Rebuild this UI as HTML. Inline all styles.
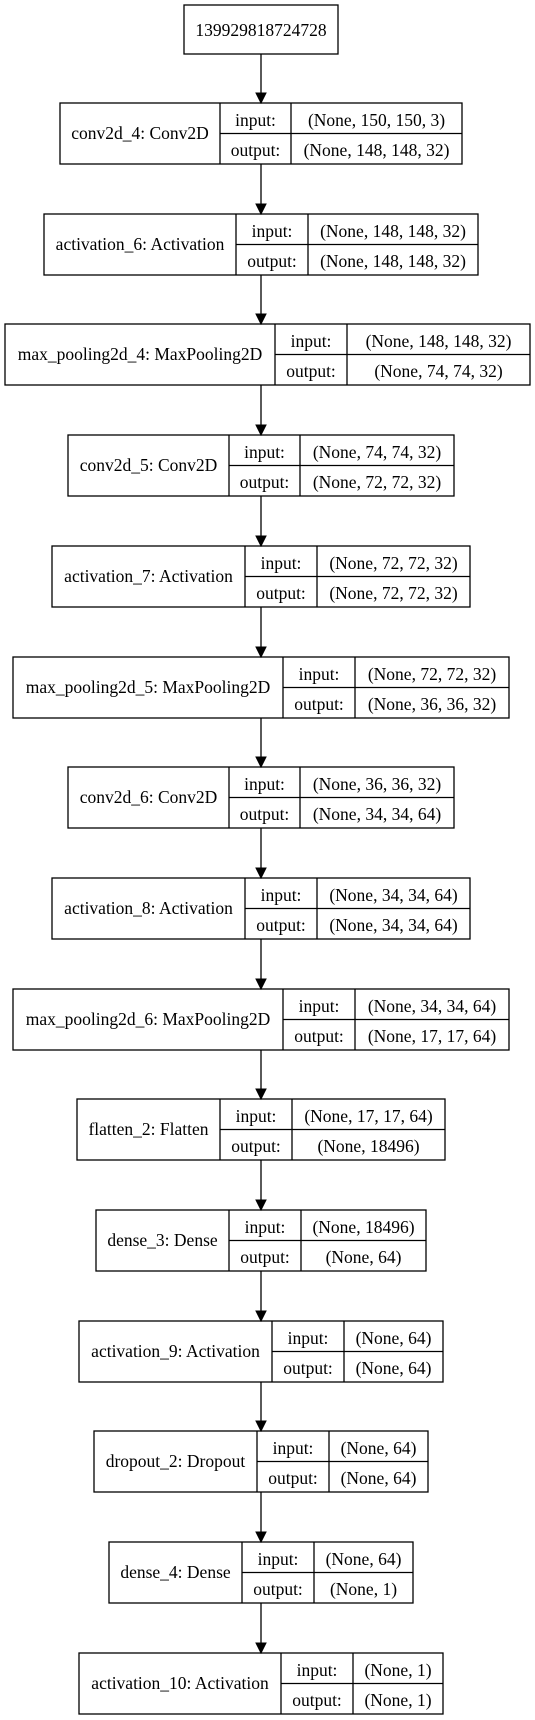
<!DOCTYPE html>
<html><head><meta charset="utf-8"><style>
html,body{margin:0;padding:0;background:#fff;}
svg{display:block;}
text{font-family:"Liberation Serif",serif;font-size:17.5px;fill:#000;text-anchor:middle;}
rect,line{stroke:#000;stroke-width:1.3;fill:none;}
polygon{fill:#000;stroke:#000;stroke-width:1;}
</style></head><body>
<svg width="535" height="1720" viewBox="0 0 535 1720" xmlns="http://www.w3.org/2000/svg">
<rect x="184" y="5" width="154" height="49"/>
<text x="261" y="36">139929818724728</text>

<line x1="261" y1="54" x2="261" y2="93"/><polygon points="256,93 266,93 261,103"/>
<line x1="261" y1="164" x2="261" y2="204"/><polygon points="256,204 266,204 261,214"/>
<line x1="261" y1="275" x2="261" y2="314"/><polygon points="256,314 266,314 261,324"/>
<line x1="261" y1="385" x2="261" y2="425"/><polygon points="256,425 266,425 261,435"/>
<line x1="261" y1="496" x2="261" y2="536"/><polygon points="256,536 266,536 261,546"/>
<line x1="261" y1="607" x2="261" y2="647"/><polygon points="256,647 266,647 261,657"/>
<line x1="261" y1="718" x2="261" y2="757"/><polygon points="256,757 266,757 261,767"/>
<line x1="261" y1="828" x2="261" y2="868"/><polygon points="256,868 266,868 261,878"/>
<line x1="261" y1="939" x2="261" y2="979"/><polygon points="256,979 266,979 261,989"/>
<line x1="261" y1="1050" x2="261" y2="1089"/><polygon points="256,1089 266,1089 261,1099"/>
<line x1="261" y1="1160" x2="261" y2="1200"/><polygon points="256,1200 266,1200 261,1210"/>
<line x1="261" y1="1271" x2="261" y2="1311"/><polygon points="256,1311 266,1311 261,1321"/>
<line x1="261" y1="1382" x2="261" y2="1421"/><polygon points="256,1421 266,1421 261,1431"/>
<line x1="261" y1="1492" x2="261" y2="1532"/><polygon points="256,1532 266,1532 261,1542"/>
<line x1="261" y1="1603" x2="261" y2="1643"/><polygon points="256,1643 266,1643 261,1653"/>

<g transform="translate(0,103)">
<rect x="60" y="0" width="402" height="61"/><line x1="220" y1="0" x2="220" y2="61"/><line x1="291" y1="0" x2="291" y2="61"/><line x1="220" y1="30.5" x2="462" y2="30.5"/>
<text x="140" y="36">conv2d_4: Conv2D</text><text x="255.5" y="23">input:</text><text x="255.5" y="53">output:</text>
<text x="376.5" y="23">(None, 150, 150, 3)</text><text x="376.5" y="53">(None, 148, 148, 32)</text></g>

<g transform="translate(0,214)">
<rect x="44" y="0" width="434" height="61"/><line x1="236" y1="0" x2="236" y2="61"/><line x1="308" y1="0" x2="308" y2="61"/><line x1="236" y1="30.5" x2="478" y2="30.5"/>
<text x="140" y="36">activation_6: Activation</text><text x="272" y="23">input:</text><text x="272" y="53">output:</text>
<text x="393" y="23">(None, 148, 148, 32)</text><text x="393" y="53">(None, 148, 148, 32)</text></g>

<g transform="translate(0,324)">
<rect x="5" y="0" width="525" height="61"/><line x1="275" y1="0" x2="275" y2="61"/><line x1="347" y1="0" x2="347" y2="61"/><line x1="275" y1="30.5" x2="530" y2="30.5"/>
<text x="140" y="36">max_pooling2d_4: MaxPooling2D</text><text x="311" y="23">input:</text><text x="311" y="53">output:</text>
<text x="438.5" y="23">(None, 148, 148, 32)</text><text x="438.5" y="53">(None, 74, 74, 32)</text></g>

<g transform="translate(0,435)">
<rect x="68" y="0" width="386" height="61"/><line x1="229" y1="0" x2="229" y2="61"/><line x1="300" y1="0" x2="300" y2="61"/><line x1="229" y1="30.5" x2="454" y2="30.5"/>
<text x="148.5" y="36">conv2d_5: Conv2D</text><text x="264.5" y="23">input:</text><text x="264.5" y="53">output:</text>
<text x="377" y="23">(None, 74, 74, 32)</text><text x="377" y="53">(None, 72, 72, 32)</text></g>

<g transform="translate(0,546)">
<rect x="52" y="0" width="418" height="61"/><line x1="245" y1="0" x2="245" y2="61"/><line x1="317" y1="0" x2="317" y2="61"/><line x1="245" y1="30.5" x2="470" y2="30.5"/>
<text x="148.5" y="36">activation_7: Activation</text><text x="281" y="23">input:</text><text x="281" y="53">output:</text>
<text x="393.5" y="23">(None, 72, 72, 32)</text><text x="393.5" y="53">(None, 72, 72, 32)</text></g>

<g transform="translate(0,657)">
<rect x="13" y="0" width="496" height="61"/><line x1="283" y1="0" x2="283" y2="61"/><line x1="355" y1="0" x2="355" y2="61"/><line x1="283" y1="30.5" x2="509" y2="30.5"/>
<text x="148" y="36">max_pooling2d_5: MaxPooling2D</text><text x="319" y="23">input:</text><text x="319" y="53">output:</text>
<text x="432" y="23">(None, 72, 72, 32)</text><text x="432" y="53">(None, 36, 36, 32)</text></g>

<g transform="translate(0,767)">
<rect x="68" y="0" width="386" height="61"/><line x1="229" y1="0" x2="229" y2="61"/><line x1="300" y1="0" x2="300" y2="61"/><line x1="229" y1="30.5" x2="454" y2="30.5"/>
<text x="148.5" y="36">conv2d_6: Conv2D</text><text x="264.5" y="23">input:</text><text x="264.5" y="53">output:</text>
<text x="377" y="23">(None, 36, 36, 32)</text><text x="377" y="53">(None, 34, 34, 64)</text></g>

<g transform="translate(0,878)">
<rect x="52" y="0" width="418" height="61"/><line x1="245" y1="0" x2="245" y2="61"/><line x1="317" y1="0" x2="317" y2="61"/><line x1="245" y1="30.5" x2="470" y2="30.5"/>
<text x="148.5" y="36">activation_8: Activation</text><text x="281" y="23">input:</text><text x="281" y="53">output:</text>
<text x="393.5" y="23">(None, 34, 34, 64)</text><text x="393.5" y="53">(None, 34, 34, 64)</text></g>

<g transform="translate(0,989)">
<rect x="13" y="0" width="496" height="61"/><line x1="283" y1="0" x2="283" y2="61"/><line x1="355" y1="0" x2="355" y2="61"/><line x1="283" y1="30.5" x2="509" y2="30.5"/>
<text x="148" y="36">max_pooling2d_6: MaxPooling2D</text><text x="319" y="23">input:</text><text x="319" y="53">output:</text>
<text x="432" y="23">(None, 34, 34, 64)</text><text x="432" y="53">(None, 17, 17, 64)</text></g>

<g transform="translate(0,1099)">
<rect x="77" y="0" width="368" height="61"/><line x1="220" y1="0" x2="220" y2="61"/><line x1="292" y1="0" x2="292" y2="61"/><line x1="220" y1="30.5" x2="445" y2="30.5"/>
<text x="148.5" y="36">flatten_2: Flatten</text><text x="256" y="23">input:</text><text x="256" y="53">output:</text>
<text x="368.5" y="23">(None, 17, 17, 64)</text><text x="368.5" y="53">(None, 18496)</text></g>

<g transform="translate(0,1210)">
<rect x="96" y="0" width="330" height="61"/><line x1="229" y1="0" x2="229" y2="61"/><line x1="301" y1="0" x2="301" y2="61"/><line x1="229" y1="30.5" x2="426" y2="30.5"/>
<text x="162.5" y="36">dense_3: Dense</text><text x="265" y="23">input:</text><text x="265" y="53">output:</text>
<text x="363.5" y="23">(None, 18496)</text><text x="363.5" y="53">(None, 64)</text></g>

<g transform="translate(0,1321)">
<rect x="79" y="0" width="364" height="61"/><line x1="272" y1="0" x2="272" y2="61"/><line x1="344" y1="0" x2="344" y2="61"/><line x1="272" y1="30.5" x2="443" y2="30.5"/>
<text x="175.5" y="36">activation_9: Activation</text><text x="308" y="23">input:</text><text x="308" y="53">output:</text>
<text x="393.5" y="23">(None, 64)</text><text x="393.5" y="53">(None, 64)</text></g>

<g transform="translate(0,1431)">
<rect x="94" y="0" width="334" height="61"/><line x1="257" y1="0" x2="257" y2="61"/><line x1="329" y1="0" x2="329" y2="61"/><line x1="257" y1="30.5" x2="428" y2="30.5"/>
<text x="175.5" y="36">dropout_2: Dropout</text><text x="293" y="23">input:</text><text x="293" y="53">output:</text>
<text x="378.5" y="23">(None, 64)</text><text x="378.5" y="53">(None, 64)</text></g>

<g transform="translate(0,1542)">
<rect x="109" y="0" width="304" height="61"/><line x1="242" y1="0" x2="242" y2="61"/><line x1="314" y1="0" x2="314" y2="61"/><line x1="242" y1="30.5" x2="413" y2="30.5"/>
<text x="175.5" y="36">dense_4: Dense</text><text x="278" y="23">input:</text><text x="278" y="53">output:</text>
<text x="363.5" y="23">(None, 64)</text><text x="363.5" y="53">(None, 1)</text></g>

<g transform="translate(0,1653)">
<rect x="79" y="0" width="364" height="61"/><line x1="281" y1="0" x2="281" y2="61"/><line x1="353" y1="0" x2="353" y2="61"/><line x1="281" y1="30.5" x2="443" y2="30.5"/>
<text x="180" y="36">activation_10: Activation</text><text x="317" y="23">input:</text><text x="317" y="53">output:</text>
<text x="398" y="23">(None, 1)</text><text x="398" y="53">(None, 1)</text></g>
</svg>
</body></html>
